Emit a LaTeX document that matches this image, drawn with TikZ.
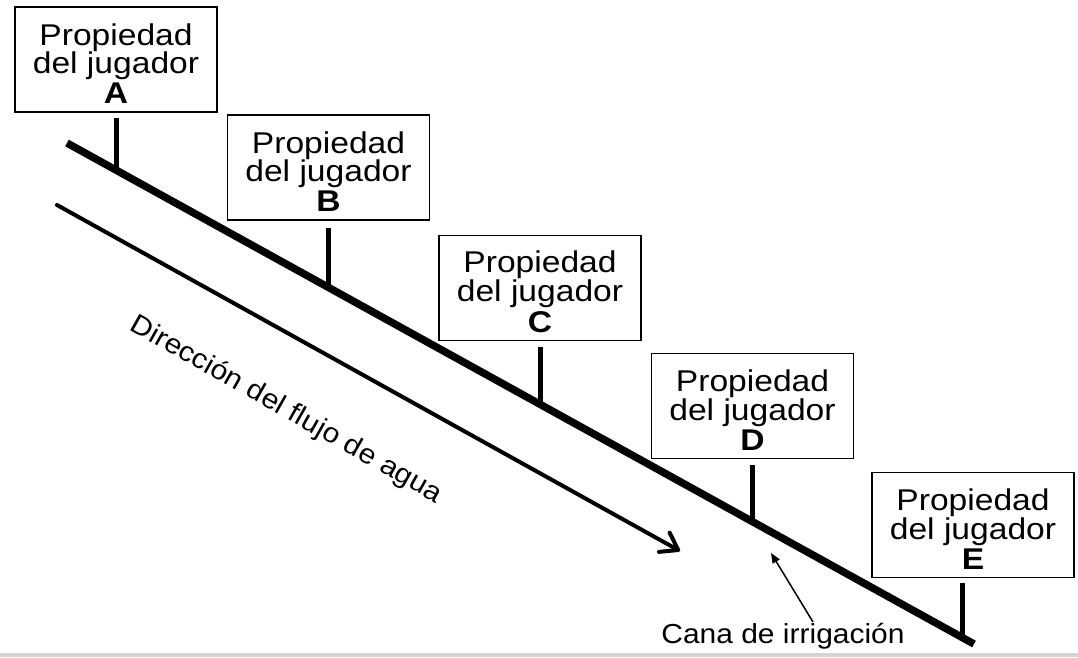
\documentclass[tikz,border=0pt]{standalone}
\usepackage{fontspec}
\usetikzlibrary{arrows.meta}
\newfontfamily\boxfont{Liberation Sans}[FakeStretch=1.12]
\newfontfamily\lblfont{Liberation Sans}[FakeStretch=1.09]
\definecolor{bandgray}{RGB}{211,212,214}
\newcommand{\topstrut}{\rule{0pt}{30pt}}
\tikzset{
  pbox/.style={draw=black, line width=1.3pt, minimum width=202pt, minimum height=105pt,
    inner sep=0pt, align=center,
    font=\boxfont\fontsize{30}{27}\selectfont},
  canal/.style={line width=7.5pt},
  stemline/.style={line width=5pt},
  flow/.style={line width=4pt, line cap=round, -{Straight Barb[length=16pt,width=22pt,round]}},
  pointer/.style={line width=1.5pt, -{Triangle[length=10pt,width=8pt]}},
  lbl/.style={font=\lblfont\fontsize{27.5}{27.5}\selectfont, inner sep=0pt}
}
\begin{document}
\begin{tikzpicture}[x=1pt,y=-1pt]
\useasboundingbox (0,0) rectangle (1078,657);
\fill[bandgray] (0,653) rectangle (1078,657);
% boxes
\node[pbox] (A) at (116,59.5) {\topstrut Propiedad\\del jugador\\[3pt]\textbf{A}};
\node[pbox] (B) at (328.5,167.5) {\topstrut Propiedad\\del jugador\\[3pt]\textbf{B}};
\node[pbox] (C) at (540,288) {\topstrut Propiedad\\del jugador\\[3pt]\textbf{C}};
\node[pbox] (D) at (752.5,406) {\topstrut Propiedad\\del jugador\\[3pt]\textbf{D}};
\node[pbox] (E) at (973,525) {\topstrut Propiedad\\del jugador\\[3pt]\textbf{E}};
% canal
\coordinate (L1) at (67,143);
\coordinate (L2) at (974,644);
\draw[canal] (L1) -- (L2);
% stems
\coordinate (sA1) at (116,118); \coordinate (sA2) at (116,170.1);
\coordinate (sB1) at (328,228); \coordinate (sB2) at (328,287.2);
\coordinate (sC1) at (540,347); \coordinate (sC2) at (540,404.3);
\coordinate (sD1) at (752,465); \coordinate (sD2) at (752,521.5);
\coordinate (sE1) at (962,583); \coordinate (sE2) at (962,637.5);
\draw[stemline] (sA1) -- (sA2);
\draw[stemline] (sB1) -- (sB2);
\draw[stemline] (sC1) -- (sC2);
\draw[stemline] (sD1) -- (sD2);
\draw[stemline] (sE1) -- (sE2);
% flow arrow
\coordinate (F1) at (57,205);
\coordinate (F2) at (680,551);
\draw[flow] (F1) -- (F2);
\node[lbl, rotate=-29.5] (dir) at (286,410) {Dirección del flujo de agua};
% canal label
\node[lbl, anchor=base] (cana) at (783,643) {Cana de irrigación};
\coordinate (P1) at (813,622);
\coordinate (P2) at (771,553);
\draw[pointer] (P1) -- (P2);
\end{tikzpicture}
\end{document}
